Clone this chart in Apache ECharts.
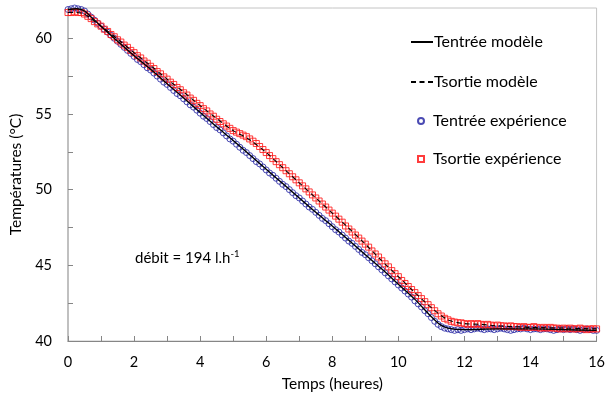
<!DOCTYPE html>
<html>
<head>
<meta charset="utf-8">
<script src="https://cdn.jsdelivr.net/npm/echarts@6/dist/echarts.min.js"></script>
<style>html,body{margin:0;padding:0;background:#fff}#c{width:608px;height:397px}</style>
</head>
<body>
<div id="c"></div>
<script>
// Tick labels
var xTickLabels = [0, 2, 4, 6, 8, 10, 12, 14, 16];
var xTickMarks = [0,1,2,3,4,5,6,7,8,9,10,11,12,13,14,15,16];
var yTickLabels = [40, 45, 50, 55, 60];
var yTickMarks = [40, 42.5, 45, 47.5, 50, 52.5, 55, 57.5, 60];

// Model curves (time in hours, temperature in °C)
var modelTimes = [0,0.25,0.5,0.75,1,1.5,2,2.5,3,3.5,4,4.5,5,5.5,6,6.5,7,7.5,8,8.5,9,9.5,10,10.5,11,11.25,11.5,12,13,14,15,16];
var tEntreeModele = [61.9,61.95,61.8,61.3,60.8,59.8,58.85,57.95,57.0,56.05,55.1,54.15,53.25,52.3,51.35,50.4,49.45,48.5,47.6,46.65,45.7,44.75,43.75,42.75,41.6,41.1,40.85,40.75,40.8,40.8,40.75,40.7];
var sortieTimes = [0,0.25,0.5,0.75,1,1.5,2,2.5,3,3.5,4,4.5,5,5.5,6,6.5,7,7.5,8,8.5,9,9.5,10,10.5,11,11.5,12,12.5,13,14,15,16];
var tSortieModele = [61.7,61.7,61.6,61.2,60.8,59.95,59.05,58.2,57.3,56.45,55.55,54.7,53.9,53.3,52.45,51.45,50.45,49.45,48.45,47.45,46.4,45.3,44.25,43.2,42.2,41.4,41.15,41.1,41.0,40.9,40.85,40.8];

// Experimental measurements, sampled every 0.1 h from t = 0
var sampleStep = 0.1;
var tEntreeExp = [
61.9,61.95,62.0,61.95,61.9,61.8,61.6,61.4,61.2,61.0,
60.8,60.6,60.4,60.2,60.0,59.8,59.6,59.4,59.2,59.0,
58.8,58.6,58.45,58.25,58.05,57.9,57.7,57.5,57.3,57.1,
56.95,56.75,56.55,56.35,56.2,56.0,55.8,55.6,55.45,55.25,
55.05,54.85,54.7,54.5,54.3,54.1,53.95,53.75,53.55,53.35,
53.2,53.0,52.8,52.6,52.45,52.25,52.05,51.85,51.7,51.5,
51.3,51.1,50.95,50.75,50.55,50.35,50.2,50.0,49.8,49.6,
49.45,49.25,49.05,48.85,48.7,48.5,48.3,48.1,47.95,47.75,
47.55,47.35,47.2,47.0,46.8,46.6,46.45,46.25,46.05,45.85,
45.7,45.5,45.3,45.1,44.9,44.7,44.5,44.3,44.1,43.9,
43.7,43.5,43.3,43.1,42.9,42.65,42.45,42.25,42.0,41.8,
41.55,41.3,41.1,40.95,40.85,40.8,40.75,40.7,40.75,40.7,
40.75,40.8,40.75,40.8,40.85,40.8,40.75,40.8,40.8,40.75,
40.8,40.85,40.8,40.75,40.7,40.75,40.8,40.8,40.85,40.8,
40.75,40.8,40.8,40.75,40.8,40.8,40.75,40.7,40.75,40.8,
40.75,40.8,40.75,40.8,40.75,40.7,40.75,40.8,40.75,40.7,
40.7
];
var tSortieExp = [
61.7,61.7,61.75,61.7,61.7,61.6,61.45,61.3,61.1,60.95,
60.8,60.6,60.45,60.25,60.1,59.9,59.75,59.55,59.4,59.2,
59.05,58.85,58.7,58.5,58.35,58.15,58.0,57.8,57.65,57.45,
57.3,57.1,56.95,56.75,56.6,56.4,56.25,56.05,55.9,55.7,
55.55,55.35,55.2,55.0,54.85,54.65,54.5,54.35,54.2,54.05,
53.9,53.8,53.7,53.6,53.5,53.35,53.2,53.05,52.85,52.65,
52.45,52.25,52.05,51.85,51.65,51.45,51.25,51.05,50.85,50.65,
50.45,50.25,50.05,49.85,49.65,49.45,49.25,49.05,48.85,48.65,
48.45,48.25,48.05,47.85,47.6,47.4,47.2,47.0,46.8,46.6,
46.4,46.2,45.95,45.75,45.55,45.3,45.1,44.9,44.65,44.45,
44.25,44.0,43.8,43.6,43.4,43.2,43.0,42.8,42.6,42.4,
42.2,42.0,41.8,41.65,41.5,41.4,41.3,41.25,41.2,41.2,
41.15,41.1,41.15,41.1,41.15,41.1,41.05,41.1,41.05,41.0,
41.05,41.0,41.0,40.95,41.0,40.95,40.95,40.9,40.95,40.9,
40.9,40.95,40.9,40.85,40.9,40.85,40.9,40.85,40.85,40.8,
40.85,40.8,40.85,40.8,40.8,40.85,40.8,40.75,40.8,40.8,
40.8
];

function pairs(xs, ys) { return ys.map(function (v, i) { return [xs[i], v]; }); }
function sampled(ys) { return ys.map(function (v, i) { return [+(i * sampleStep).toFixed(2), v]; }); }

var FONT = 'Lato, "Open Sans", sans-serif';
var hiddenSymbol = {color: 'rgba(0,0,0,0)', borderColor: 'rgba(0,0,0,0)', borderWidth: 0};
var chart = echarts.init(document.getElementById('c'), null, {renderer: 'canvas'});
chart.setOption({
  animation: false,
  backgroundColor: '#fff',
  textStyle: {fontFamily: FONT},
  grid: {left: 63, right: 7, top: 8, bottom: 54, show: true, borderColor: '#c4c4c4', borderWidth: 1},
  legend: [{
    orient: 'vertical', left: 410, top: 34, padding: 0, itemWidth: 22, itemHeight: 8, itemGap: 24,
    textStyle: {fontFamily: FONT, fontSize: 16, color: '#000', padding: [0, 0, 0, -4]},
    data: [
      {name: 'Tentrée modèle', itemStyle: hiddenSymbol},
      {name: 'Tsortie modèle', itemStyle: hiddenSymbol}
    ]
  }, {
    orient: 'vertical', left: 417, top: 113, padding: 0, itemWidth: 6, itemHeight: 6, itemGap: 22,
    textStyle: {fontFamily: FONT, fontSize: 16, color: '#000', padding: [0, 0, 0, 4]},
    data: [
      {name: 'Tentrée expérience', icon: 'circle'},
      {name: 'Tsortie expérience', icon: 'rect'}
    ]
  }],
  xAxis: {
    type: 'value', min: 0, max: 16,
    name: 'Temps (heures)', nameLocation: 'middle', nameGap: 35,
    nameTextStyle: {fontFamily: FONT, fontSize: 15.5, color: '#000'},
    axisLine: {lineStyle: {color: '#868686', width: 1}},
    axisTick: {inside: true, length: 5, customValues: xTickMarks, lineStyle: {color: '#868686'}},
    axisLabel: {customValues: xTickLabels, fontFamily: FONT, fontSize: 14.5, color: '#000', margin: 14},
    splitLine: {show: false}
  },
  yAxis: {
    type: 'value', min: 40, max: 62,
    name: 'Températures (°C)', nameLocation: 'middle', nameGap: 44,
    nameTextStyle: {fontFamily: FONT, fontSize: 15.5, color: '#000'},
    axisLine: {show: true, lineStyle: {color: '#b4b4b4', width: 1.5}},
    axisTick: {inside: true, length: 5, customValues: yTickMarks, lineStyle: {color: '#868686'}},
    axisLabel: {customValues: yTickLabels, fontFamily: FONT, fontSize: 14.5, color: '#000', margin: 16},
    splitLine: {show: false}
  },
  series: [
    {
      name: 'Tentrée expérience', type: 'scatter', z: 2,
      symbol: 'circle', symbolSize: 6,
      itemStyle: {color: 'rgba(0,0,0,0)', borderColor: '#2b2ba6', borderWidth: 1, opacity: 0.85},
      data: sampled(tEntreeExp)
    },
    {
      name: 'Tsortie expérience', type: 'scatter', z: 2,
      symbol: 'rect', symbolSize: 6,
      itemStyle: {color: 'rgba(0,0,0,0)', borderColor: '#ff1a1a', borderWidth: 1, opacity: 0.85},
      data: sampled(tSortieExp)
    },
    {
      name: 'Tentrée modèle', type: 'line', z: 3, symbol: 'none', smooth: 0.3,
      lineStyle: {color: '#000', width: 1.3},
      itemStyle: {color: '#000'},
      data: pairs(modelTimes, tEntreeModele)
    },
    {
      name: 'Tsortie modèle', type: 'line', z: 3, symbol: 'none', smooth: 0.3,
      lineStyle: {color: '#000', width: 1.1, type: [5, 3.5]},
      itemStyle: {color: '#000'},
      data: pairs(sortieTimes, tSortieModele)
    }
  ],
  graphic: [{
    type: 'text', left: 135, top: 249,
    style: {
      text: 'débit = 194 l.h{sup|-1}',
      fontFamily: FONT, fontSize: 15, fill: '#000',
      rich: {sup: {fontSize: 9.5, verticalAlign: 'top', padding: [0, 0, 8, 0], fontFamily: FONT}}
    }
  }]
});
</script>
</body>
</html>
